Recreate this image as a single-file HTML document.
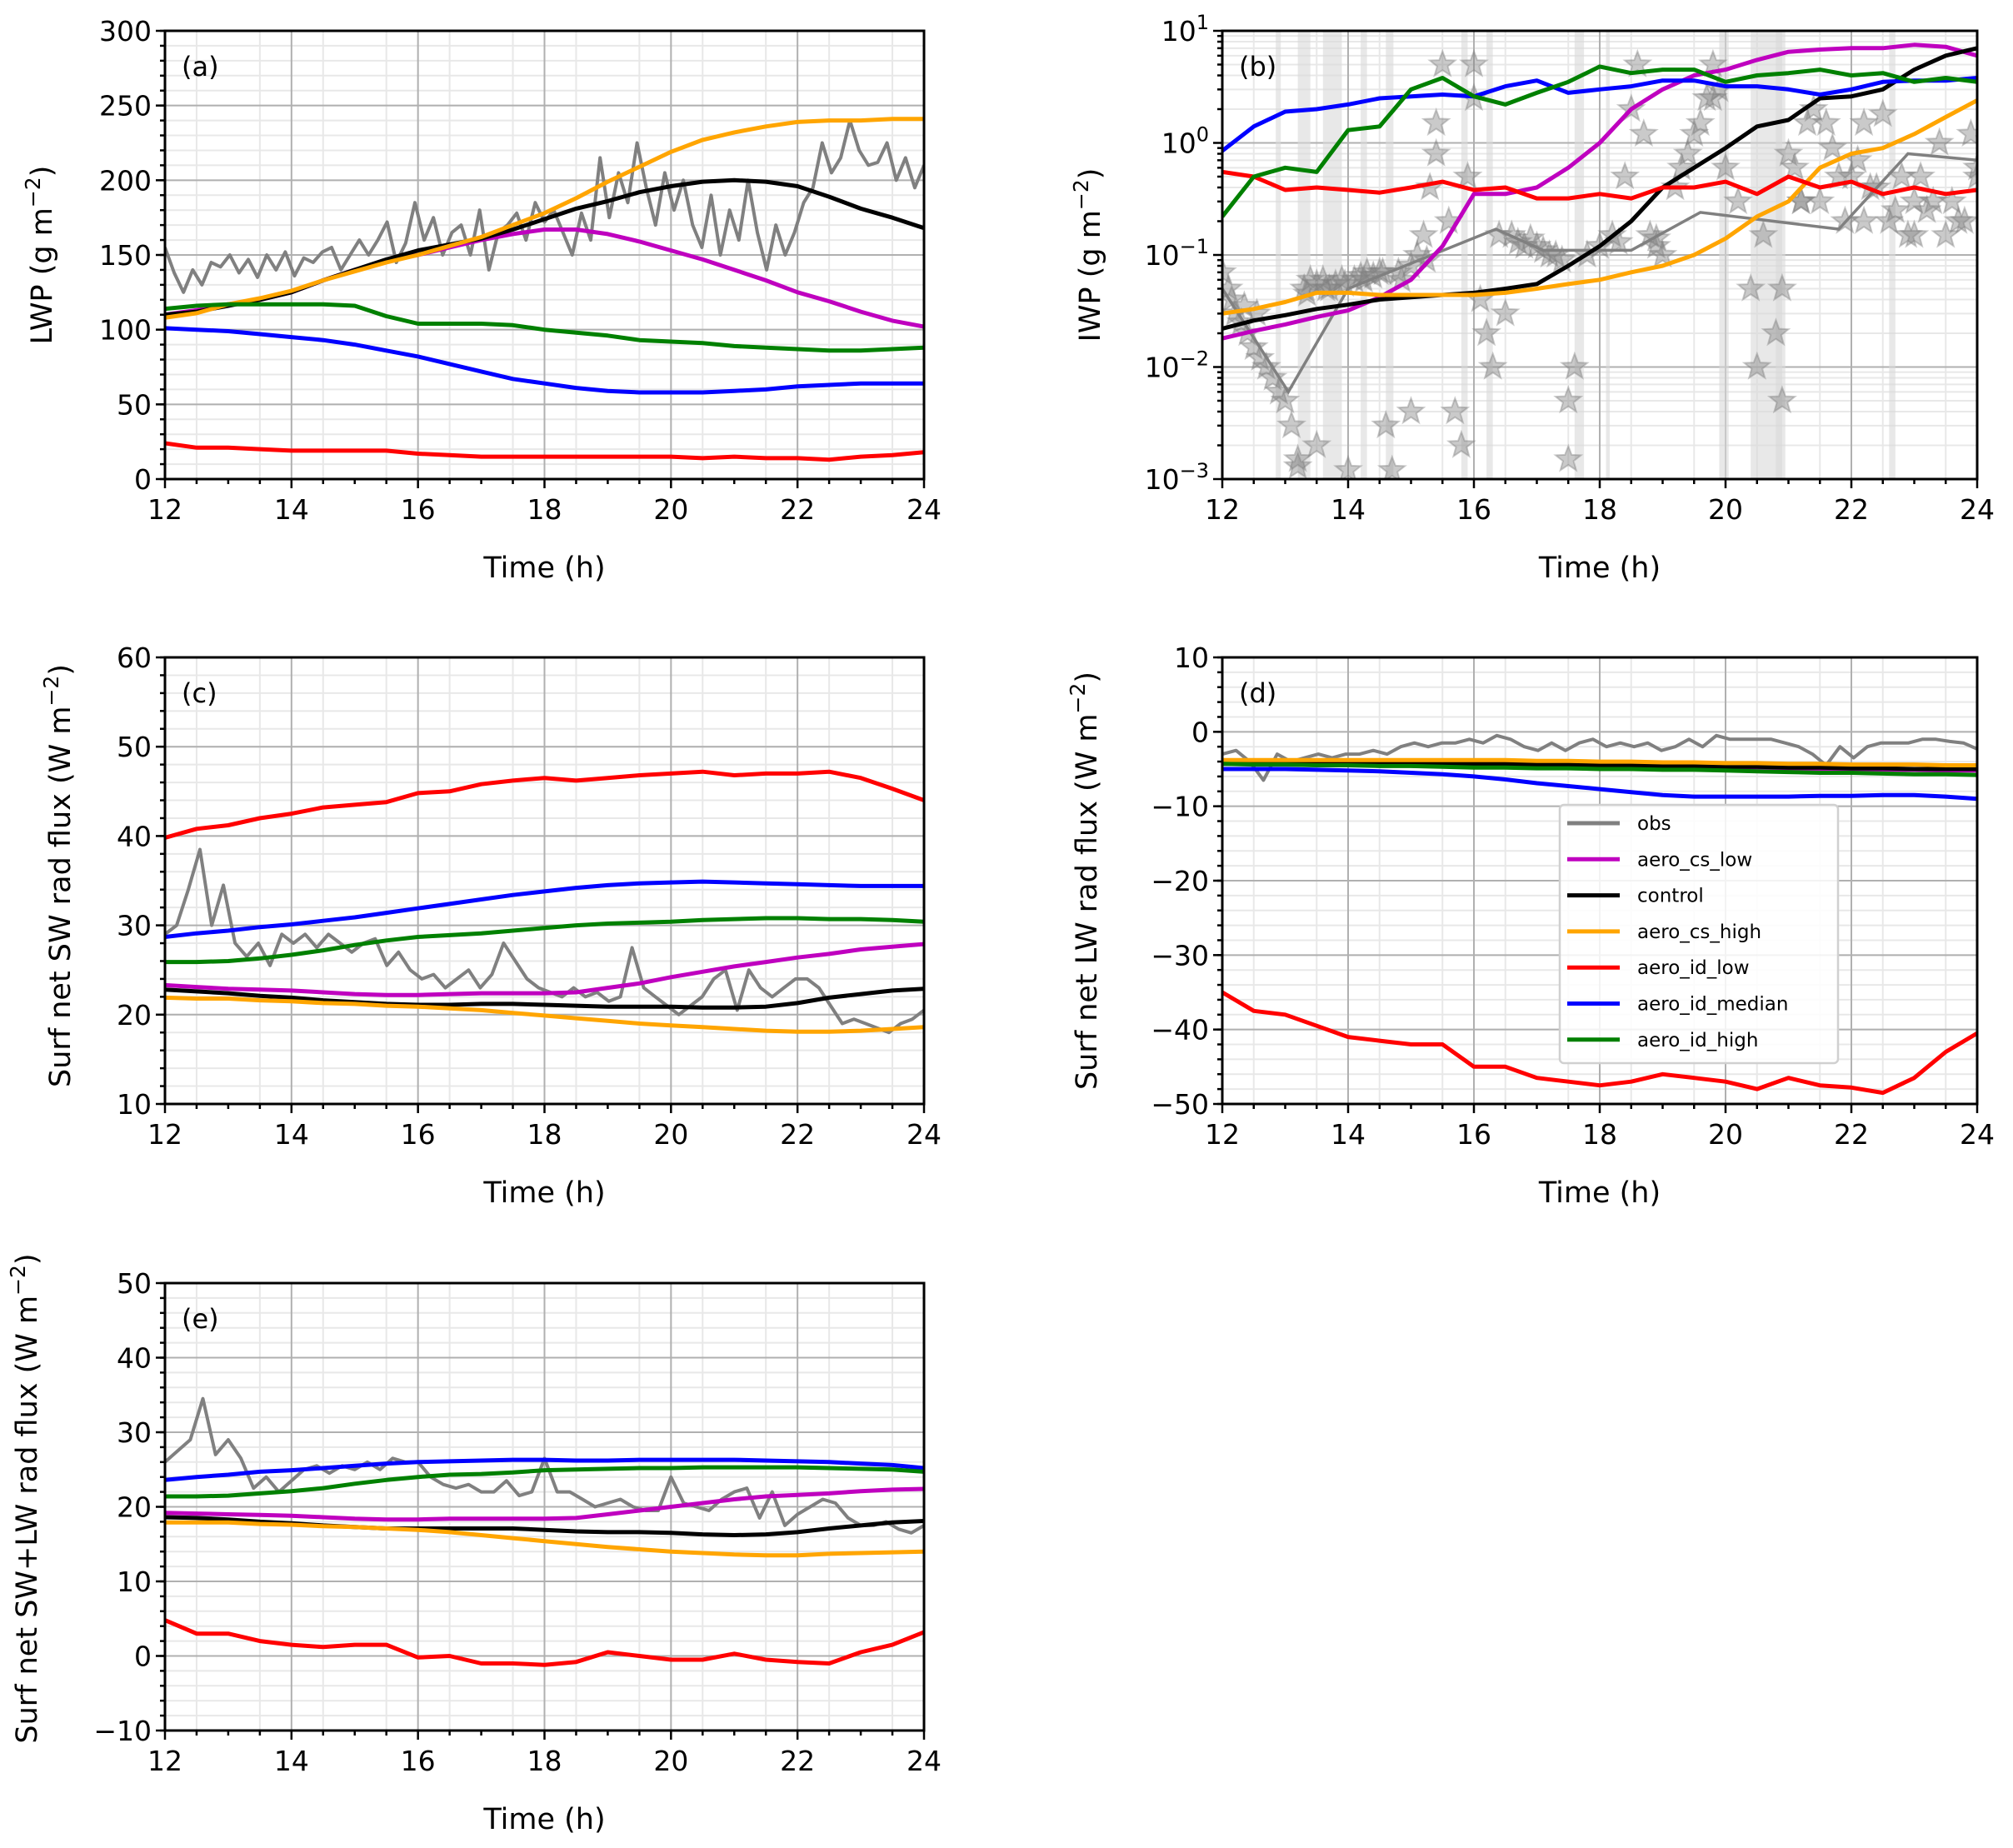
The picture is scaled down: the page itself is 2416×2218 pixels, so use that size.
<!DOCTYPE html>
<html><head><meta charset="utf-8"><style>
html,body{margin:0;padding:0;background:#fff}
svg{display:block}
text{font-family:"DejaVu Sans","Liberation Sans",sans-serif;fill:#000}
</style></head><body>
<svg id="fig" xmlns="http://www.w3.org/2000/svg" width="2416" height="2218" viewBox="0 0 2416 2218"></svg>
<script>
// ---------- data ----------
const seriesNames = ["aero_cs_low","control","aero_cs_high","aero_id_low","aero_id_median","aero_id_high"];
const seriesColors = ["#bf00bf","#000000","#ffa500","#ff0000","#0000ff","#008000"];
// panel a LWP (0.5 h step, 12..24)
const lwpCsLow = [110,113,117,120,125,133,140,146,150,155,160,164,167,167,164,159,153,147,140,133,125,119,112,106,102];
const lwpControl = [110,112,116,120,125,133,140,147,153,157,161,167,174,181,186,192,196,199,200,199,196,189,181,175,168];
const lwpCsHigh = [108,111,117,121,126,133,139,145,150,156,162,170,178,188,199,209,219,227,232,236,239,240,240,241,241];
const lwpIdLow = [24,21,21,20,19,19,19,19,17,16,15,15,15,15,15,15,15,14,15,14,14,13,15,16,18];
const lwpIdMed = [101,100,99,97,95,93,90,86,82,77,72,67,64,61,59,58,58,58,59,60,62,63,64,64,64];
const lwpIdHigh = [114,116,117,117,117,117,116,109,104,104,104,103,100,98,96,93,92,91,89,88,87,86,86,87,88];
const lwpObs = [155,138,125,140,130,145,142,150,138,147,135,150,140,152,136,148,145,152,155,140,150,160,150,160,172,145,158,185,160,175,150,165,170,150,180,140,165,170,178,160,185,172,180,165,150,178,160,215,175,205,185,225,195,170,205,180,200,170,155,190,150,180,160,200,165,140,170,150,165,185,195,225,205,215,240,220,210,212,225,200,215,195,210];
// panel b IWP (log)
const iwpCsLow = [0.018,0.021,0.024,0.028,0.032,0.042,0.06,0.12,0.35,0.35,0.4,0.6,1.0,2.0,3.0,4.0,4.5,5.5,6.5,6.8,7.0,7.0,7.5,7.2,6.0];
const iwpControl = [0.022,0.026,0.029,0.033,0.036,0.04,0.042,0.044,0.046,0.05,0.055,0.08,0.12,0.2,0.4,0.6,0.9,1.4,1.6,2.5,2.6,3.0,4.5,6.0,7.0];
const iwpCsHigh = [0.03,0.033,0.038,0.046,0.046,0.044,0.044,0.044,0.044,0.046,0.05,0.055,0.06,0.07,0.08,0.1,0.14,0.22,0.3,0.6,0.8,0.9,1.2,1.7,2.4];
const iwpIdLow = [0.55,0.5,0.38,0.4,0.38,0.36,0.4,0.45,0.38,0.4,0.32,0.32,0.35,0.32,0.4,0.4,0.45,0.35,0.5,0.4,0.45,0.35,0.4,0.35,0.38];
const iwpIdMed = [0.85,1.4,1.9,2.0,2.2,2.5,2.6,2.7,2.6,3.2,3.6,2.8,3.0,3.2,3.6,3.6,3.2,3.2,3.0,2.7,3.0,3.5,3.6,3.6,3.8];
const iwpIdHigh = [0.22,0.5,0.6,0.55,1.3,1.4,3.0,3.8,2.6,2.2,2.8,3.5,4.8,4.2,4.5,4.5,3.5,4.0,4.2,4.5,4.0,4.2,3.5,3.8,3.5];
const iwpObsLineT = [12,13.05,14,16.35,17.1,18.5,19.6,21.8,22.9,24];
const iwpObsLineV = [0.05,0.006,0.05,0.17,0.11,0.11,0.24,0.17,0.8,0.7];
const starT = [12.0,12.1,12.2,12.3,12.4,12.5,12.6,12.7,12.8,12.9,13.0,13.1,13.2,13.3,13.4,13.5,13.6,13.7,13.8,13.9,14.0,14.1,14.2,14.3,14.4,14.5,14.6,14.8,15.0,15.0,15.1,15.2,15.3,15.4,15.5,15.6,15.8,15.9,16.0,16.1,16.2,16.3,16.4,16.6,16.8,17.0,17.2,17.4,17.5,17.6,17.5,17.8,18.0,18.2,18.4,18.5,18.6,18.7,18.8,18.9,19.0,19.2,19.4,19.6,19.8,19.9,20.0,20.2,20.4,20.6,20.8,20.9,21.0,21.2,21.4,21.6,21.8,22.0,22.2,22.4,22.6,22.8,23.0,23.2,23.4,23.6,23.8,24.0,23.5,22.9,23.9,13.2,13.5,14.7,15.7,16.5,20.5,20.9,15.4,16.0,19.8,12.15,12.35,12.55,13.35,13.65,13.95,14.25,14.55,14.85,15.25,16.7,16.9,17.1,17.3,18.3,18.9,19.3,19.5,19.7,21.1,21.3,21.5,21.7,21.9,22.1,22.3,22.5,22.7,23.1,23.3,23.7,24.0,22.2,21.2,23.0];
const starV = [0.07,0.05,0.03,0.025,0.02,0.015,0.012,0.01,0.008,0.006,0.005,0.003,0.0015,0.05,0.06,0.055,0.06,0.05,0.055,0.06,0.0012,0.06,0.065,0.07,0.065,0.07,0.003,0.07,0.08,0.004,0.1,0.15,0.4,1.5,5,0.2,0.002,0.5,5,0.04,0.02,0.01,0.15,0.15,0.12,0.12,0.1,0.09,0.005,0.01,0.0015,0.1,0.12,0.15,0.5,2,5,1.2,0.15,0.12,0.1,0.4,0.8,1.5,5,3,0.6,0.3,0.05,0.15,0.02,0.005,0.8,0.3,2,1.5,0.5,0.5,1.5,0.4,0.2,0.5,0.3,0.25,1.0,0.3,0.2,0.5,0.15,0.15,1.2,0.0013,0.002,0.0012,0.004,0.03,0.01,0.05,0.8,2.5,2.5,0.04,0.035,0.03,0.045,0.05,0.055,0.06,0.07,0.06,0.09,0.13,0.14,0.11,0.1,0.13,0.14,0.6,1.2,2.5,0.6,1.5,0.3,0.9,0.2,0.7,0.4,1.8,0.25,0.5,0.3,0.2,0.6,0.2,0.3,0.15,1.1];
const bandT = [12.85,13.2,13.6,14.2,14.6,15.8,16.2,17.6,18.1,19.9,20.4,20.8,22.6];
const bandW = [0.08,0.2,0.3,0.1,0.12,0.1,0.1,0.15,0.06,0.15,0.5,0.15,0.1];
// panel c SW
const swCsLow = [23.3,23.1,22.9,22.8,22.7,22.5,22.3,22.2,22.2,22.3,22.4,22.4,22.4,22.5,23.0,23.5,24.2,24.8,25.4,25.9,26.4,26.8,27.3,27.6,27.9];
const swControl = [22.8,22.6,22.4,22.1,21.9,21.6,21.4,21.2,21.1,21.1,21.2,21.2,21.1,21.0,20.9,20.9,20.9,20.8,20.8,20.9,21.3,21.9,22.3,22.7,22.9];
const swCsHigh = [21.9,21.8,21.8,21.6,21.5,21.3,21.2,21.0,20.9,20.7,20.5,20.2,19.9,19.6,19.3,19.0,18.8,18.6,18.4,18.2,18.1,18.1,18.2,18.4,18.6];
const swIdLow = [39.8,40.8,41.2,42.0,42.5,43.2,43.5,43.8,44.8,45.0,45.8,46.2,46.5,46.2,46.5,46.8,47.0,47.2,46.8,47.0,47.0,47.2,46.5,45.3,44.0];
const swIdMed = [28.7,29.1,29.4,29.8,30.1,30.5,30.9,31.4,31.9,32.4,32.9,33.4,33.8,34.2,34.5,34.7,34.8,34.9,34.8,34.7,34.6,34.5,34.4,34.4,34.4];
const swIdHigh = [25.9,25.9,26.0,26.3,26.7,27.2,27.8,28.3,28.7,28.9,29.1,29.4,29.7,30.0,30.2,30.3,30.4,30.6,30.7,30.8,30.8,30.7,30.7,30.6,30.4];
const swObs = [29,30,34,38.5,30,34.5,28,26.5,28,25.5,29,28,29,27.5,29,28,27,28,28.5,25.5,27,25,24,24.5,23,24,25,23,24.5,28,26,24,23,22.5,22,23,22,22.5,21.5,22,27.5,23,22,21,20,21,22,24,25,20.5,25,23,22,23,24,24,23,21,19,19.5,19,18.5,18,19,19.5,20.5];
// panel d LW
const lwCsLow = [-4.0,-4.0,-4.0,-4.1,-4.1,-4.2,-4.2,-4.3,-4.3,-4.4,-4.4,-4.5,-4.5,-4.6,-4.7,-4.7,-4.8,-4.9,-4.9,-5.0,-5.0,-5.1,-5.1,-5.2,-5.2];
const lwControl = [-4.3,-4.3,-4.3,-4.3,-4.3,-4.3,-4.3,-4.3,-4.3,-4.3,-4.4,-4.4,-4.5,-4.5,-4.6,-4.6,-4.7,-4.7,-4.8,-4.8,-4.9,-4.9,-5.0,-5.0,-5.0];
const lwCsHigh = [-3.8,-3.8,-3.8,-3.8,-3.8,-3.8,-3.8,-3.8,-3.8,-3.8,-3.9,-3.9,-4.0,-4.0,-4.1,-4.1,-4.2,-4.2,-4.3,-4.3,-4.4,-4.4,-4.4,-4.5,-4.5];
const lwIdLow = [-35,-37.5,-38,-39.5,-41,-41.5,-42,-42,-45,-45,-46.5,-47,-47.5,-47,-46,-46.5,-47,-48,-46.5,-47.5,-47.8,-48.5,-46.5,-43,-40.5];
const lwIdMed = [-5,-5,-5,-5.1,-5.2,-5.3,-5.5,-5.7,-6,-6.4,-6.9,-7.3,-7.7,-8.1,-8.5,-8.7,-8.7,-8.7,-8.7,-8.6,-8.6,-8.5,-8.5,-8.7,-9.0];
const lwIdHigh = [-4.3,-4.4,-4.4,-4.5,-4.5,-4.6,-4.6,-4.7,-4.8,-4.8,-4.9,-4.9,-5.0,-5.0,-5.1,-5.1,-5.2,-5.3,-5.4,-5.5,-5.5,-5.6,-5.7,-5.7,-5.8];
const lwObs = [-3,-2.5,-4,-6.5,-3,-4,-3.5,-3,-3.5,-3,-3,-2.5,-3,-2,-1.5,-2,-1.5,-1.5,-1,-1.5,-0.5,-1,-2,-2.5,-1.5,-2.5,-1.5,-1,-2,-1.5,-2,-1.5,-2.5,-2,-1,-2,-0.5,-1,-1,-1,-1,-1.5,-2,-3,-4.5,-2,-3.5,-2,-1.5,-1.5,-1.5,-1,-1,-1.3,-1.5,-2.3];
// panel e SW+LW
const netCsLow = [19.2,19.1,19.0,18.9,18.8,18.6,18.4,18.3,18.3,18.4,18.4,18.4,18.4,18.5,19.0,19.5,20.0,20.5,21.0,21.4,21.6,21.8,22.1,22.3,22.4];
const netControl = [18.6,18.5,18.3,18.0,17.8,17.5,17.3,17.1,17.1,17.1,17.1,17.1,16.9,16.7,16.6,16.6,16.5,16.3,16.2,16.3,16.6,17.1,17.5,17.9,18.1];
const netCsHigh = [17.9,17.9,17.9,17.7,17.6,17.4,17.3,17.1,16.9,16.6,16.2,15.8,15.4,15.0,14.6,14.3,14.0,13.8,13.6,13.5,13.5,13.7,13.8,13.9,14.0];
const netIdLow = [4.8,3.0,3.0,2.0,1.5,1.2,1.5,1.5,-0.2,0,-1,-1,-1.2,-0.8,0.5,0,-0.5,-0.5,0.3,-0.5,-0.8,-1.0,0.5,1.5,3.2];
const netIdMed = [23.6,24.0,24.3,24.7,24.9,25.2,25.5,25.8,26.0,26.1,26.2,26.3,26.3,26.2,26.2,26.3,26.3,26.3,26.3,26.2,26.1,26.0,25.8,25.6,25.2];
const netIdHigh = [21.4,21.4,21.5,21.8,22.1,22.5,23.1,23.6,24.0,24.3,24.4,24.6,24.9,25.0,25.1,25.2,25.2,25.3,25.3,25.3,25.3,25.2,25.1,25.0,24.7];
const netObs = [26,27.5,29,34.5,27,29,26.5,22.5,24,22,23.5,25,25.5,24.5,25.5,25,26,25,26.5,26,26,24,23,22.5,23,22,22,23.5,21.5,22,26.5,22,22,21,20,20.5,21,20,19.5,19.5,24,20.5,20,19.5,21,22,22.5,18.5,22,17.5,19,20,21,20.5,18.5,17.5,17.5,18,17,16.5,17.5];
const xTicks = [12,14,16,18,20,22,24];

// ---------- drawing ----------
const NS = "http://www.w3.org/2000/svg";
const svg = document.getElementById("fig");
function el(tag, attrs, parent){ const e=document.createElementNS(NS,tag); for(const k in attrs) e.setAttribute(k,attrs[k]); (parent||svg).appendChild(e); return e; }

function panel(cfg){
  const g = el("g",{});
  
  
  const X = t => cfg.x0 + (t-12)/12*(cfg.x1-cfg.x0);
  const Y = cfg.log ? (v => cfg.yb - (Math.log10(v)-cfg.ymin)/(cfg.ymax-cfg.ymin)*(cfg.yb-cfg.yt))
                    : (v => cfg.yb - (v-cfg.ymin)/(cfg.ymax-cfg.ymin)*(cfg.yb-cfg.yt));
  const clipId = "clip-"+cfg.name;
  const cp = el("clipPath",{id:clipId},g);
  el("rect",{x:cfg.x0,y:cfg.yt,width:cfg.x1-cfg.x0,height:cfg.yb-cfg.yt},cp);
  const minor = el("g",{stroke:"#e8e8e8","stroke-width":2},g);
  for(let t=12.5;t<24;t+=1){ el("line",{x1:X(t),x2:X(t),y1:cfg.yt,y2:cfg.yb},minor); }
  const yMinors=[];
  if(cfg.log){ for(let d=cfg.ymin; d<cfg.ymax; d++) for(let m=2;m<10;m++) yMinors.push(m*Math.pow(10,d)); }
  else { for(let v=cfg.ymin; v<=cfg.ymax+1e-9; v+=cfg.minorStep) yMinors.push(v); }
  yMinors.forEach(v=>el("line",{x1:cfg.x0,x2:cfg.x1,y1:Y(v),y2:Y(v)},minor));
  const major = el("g",{stroke:"#b0b0b0","stroke-width":2},g);
  xTicks.forEach(t=>el("line",{x1:X(t),x2:X(t),y1:cfg.yt,y2:cfg.yb},major));
  const yMaj = cfg.log ? cfg.yTicks.map(p=>Math.pow(10,p)) : cfg.yTicks;
  yMaj.forEach(v=>el("line",{x1:cfg.x0,x2:cfg.x1,y1:Y(v),y2:Y(v)},major));
  const plot = el("g",{"clip-path":"url(#"+clipId+")"},g);
  if(cfg.extra) cfg.extra(plot,X,Y);
  if(cfg.obs){
    const n=cfg.obs.length;
    const pts=cfg.obs.map((v,i)=>X(12+i*12/(n-1)).toFixed(1)+","+Y(v).toFixed(1)).join(" ");
    const p=el("polyline",{points:pts,fill:"none",stroke:"#808080","stroke-width":4,"stroke-linejoin":"round"},plot);
    
    
  }
  cfg.series.forEach((arr,si)=>{
    const n=arr.length;
    const pts=arr.map((v,i)=>X(12+i*12/(n-1)).toFixed(1)+","+Y(v).toFixed(1)).join(" ");
    const p=el("polyline",{points:pts,fill:"none",stroke:seriesColors[si],"stroke-width":5,"stroke-linejoin":"round"},plot);
    
    
  });
  el("rect",{x:cfg.x0,y:cfg.yt,width:cfg.x1-cfg.x0,height:cfg.yb-cfg.yt,fill:"none",stroke:"#000","stroke-width":3},g);
  const tk = el("g",{stroke:"#000","stroke-width":2.5},g);
  for(let t=12;t<=24.01;t+=0.5){ el("line",{x1:X(t),x2:X(t),y1:cfg.yb,y2:cfg.yb+(t%2===0?11:6)},tk); }
  yMaj.forEach(v=>el("line",{x1:cfg.x0-11,x2:cfg.x0,y1:Y(v),y2:Y(v)},tk));
  yMinors.forEach(v=>el("line",{x1:cfg.x0-6,x2:cfg.x0,y1:Y(v),y2:Y(v)},tk));
  xTicks.forEach(t=>{
    const tx=el("text",{x:X(t),y:cfg.yb+48,"font-size":33,"text-anchor":"middle"},g); tx.textContent=t;
    
    
  });
  cfg.yTicks.forEach((v,i)=>{
    const ty=el("text",{x:cfg.x0-16,y:Y(yMaj[i])+12,"font-size":33,"text-anchor":"end"},g);
    if(cfg.log){ ty.textContent="10"; const s=el("tspan",{dy:-14,"font-size":24},ty); s.textContent=(v<0?"\u2212"+(-v):String(v)); }
    else ty.textContent = v<0 ? "\u2212"+(-v) : String(v);
    
    
  });
  const xl=el("text",{x:(cfg.x0+cfg.x1)/2,y:cfg.yb+118,"font-size":35,"text-anchor":"middle"},g); xl.textContent="Time (h)";
  
  
  const cy=(cfg.yt+cfg.yb)/2+cfg.ylOff;
  const yl=el("text",{x:0,y:0,"font-size":35,"text-anchor":"middle",transform:"translate("+cfg.ylx+","+cy+") rotate(-90)"},g);
  yl.appendChild(document.createTextNode(cfg.ylabel+" (W m"));
  if(cfg.ylabelUnit==="g"){ yl.textContent=cfg.ylabel+" (g m"; }
  const sp=el("tspan",{dy:-14,"font-size":25},yl); sp.textContent="\u22122";
  const sp2=el("tspan",{dy:14},yl); sp2.textContent=")";
  
  
  const lt=el("text",{x:cfg.x0+20,y:cfg.yt+54,"font-size":32},g); lt.textContent=cfg.letter;
  
  
}

function starPath(cx,cy,r){
  let d="";
  for(let k=0;k<10;k++){ const a=-Math.PI/2+k*Math.PI/5; const rr=k%2?r*0.42:r; d+=(k?"L":"M")+(cx+rr*Math.cos(a)).toFixed(1)+","+(cy+rr*Math.sin(a)).toFixed(1); }
  return d+"Z";
}

panel({name:"lwp-panel",letter:"(a)",x0:198,x1:1109,yt:37,yb:575,ymin:0,ymax:300,minorStep:10,
  yTicks:[0,50,100,150,200,250,300],ylabel:"LWP",ylabelUnit:"g",ylx:62,ylOff:0,
  obs:lwpObs,series:[lwpCsLow,lwpControl,lwpCsHigh,lwpIdLow,lwpIdMed,lwpIdHigh]});

panel({name:"iwp-panel",letter:"(b)",x0:1467,x1:2373,yt:37,yb:575,ymin:-3,ymax:1,log:true,
  yTicks:[-3,-2,-1,0,1],ylabel:"IWP",ylabelUnit:"g",ylx:1320,ylOff:0,
  series:[iwpCsLow,iwpControl,iwpCsHigh,iwpIdLow,iwpIdMed,iwpIdHigh],
  extra:(g,X,Y)=>{
    bandT.forEach((t,i)=>{ const r=el("rect",{x:X(t),y:37,width:X(t+bandW[i])-X(t),height:538,fill:"#d9d9d9","fill-opacity":0.6},g);
        });
    starT.forEach((t,i)=>{ const s=el("path",{d:starPath(X(t),Y(starV[i]),16),fill:"#808080","fill-opacity":0.42,stroke:"#808080","stroke-opacity":0.42,"stroke-width":2},g);
        });
    const pts=iwpObsLineT.map((t,i)=>X(t).toFixed(1)+","+Y(iwpObsLineV[i]).toFixed(1)).join(" ");
    const p=el("polyline",{points:pts,fill:"none",stroke:"#808080","stroke-width":3.5},g);
     
  }});

panel({name:"sw-panel",letter:"(c)",x0:198,x1:1109,yt:789,yb:1325,ymin:10,ymax:60,minorStep:2,
  yTicks:[10,20,30,40,50,60],ylabel:"Surf net SW rad flux",ylx:84,ylOff:-6,
  obs:swObs,series:[swCsLow,swControl,swCsHigh,swIdLow,swIdMed,swIdHigh]});

panel({name:"lw-panel",letter:"(d)",x0:1467,x1:2373,yt:789,yb:1325,ymin:-50,ymax:10,minorStep:2,
  yTicks:[-50,-40,-30,-20,-10,0,10],ylabel:"Surf net LW rad flux",ylx:1316,ylOff:0,
  obs:lwObs,series:[lwCsLow,lwControl,lwCsHigh,lwIdLow,lwIdMed,lwIdHigh]});

panel({name:"net-panel",letter:"(e)",x0:198,x1:1109,yt:1540,yb:2077,ymin:-10,ymax:50,minorStep:2,
  yTicks:[-10,0,10,20,30,40,50],ylabel:"Surf net SW+LW rad flux",ylx:44,ylOff:-10,
  obs:netObs,series:[netCsLow,netControl,netCsHigh,netIdLow,netIdMed,netIdHigh]});

// legend
const leg = el("g",{});


el("rect",{x:1872,y:966,width:334,height:310,rx:5,fill:"#fff","fill-opacity":0.85,stroke:"#d0d0d0","stroke-width":2.5},leg);
const legNames = ["obs"].concat(seriesNames);
const legColors = ["#808080"].concat(seriesColors);
legNames.forEach((nm,i)=>{
  const y=988+i*43.3;
  const ln=el("line",{x1:1881,x2:1944,y1:y,y2:y,stroke:legColors[i],"stroke-width":5},leg);
  
  
  const tx=el("text",{x:1965,y:y+8,"font-size":23},leg); tx.textContent=nm;
  
  
});
</script>
</body></html>
